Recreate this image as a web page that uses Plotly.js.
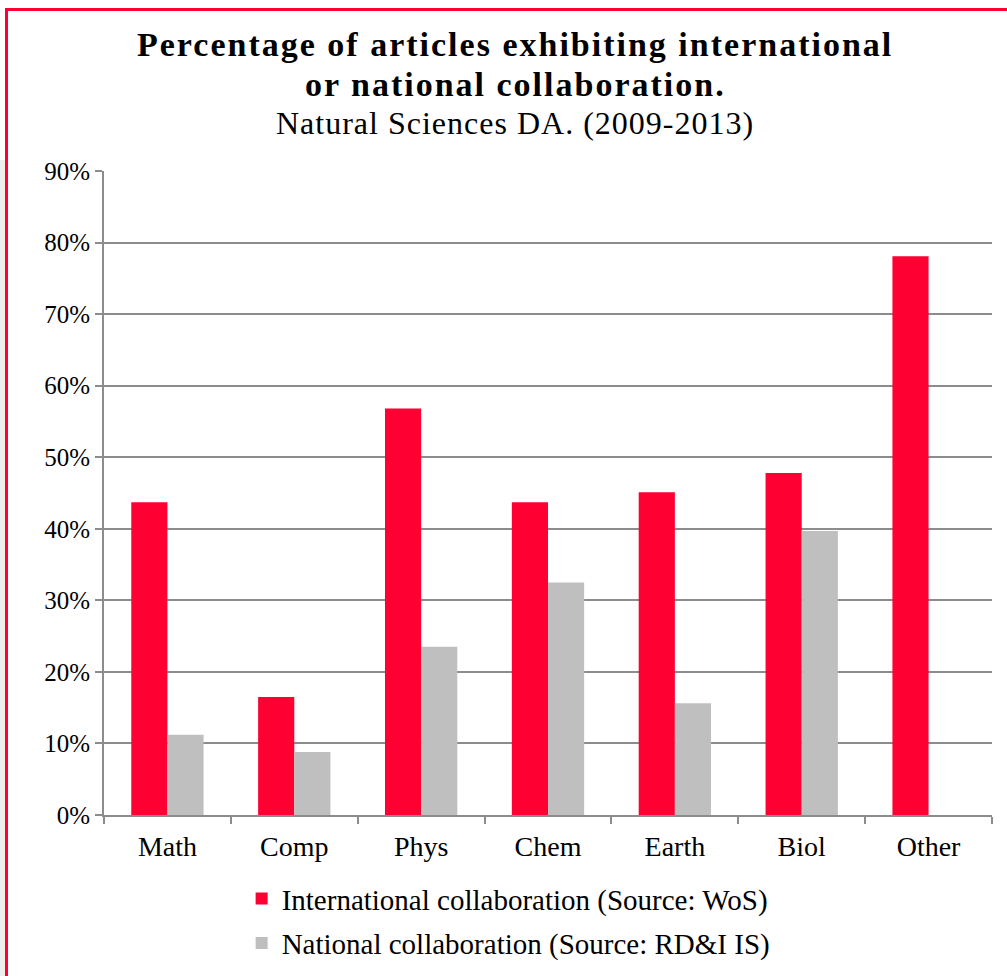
<!DOCTYPE html>
<html>
<head>
<meta charset="utf-8">
<script src="https://cdn.plot.ly/plotly-3.0.1.min.js"></script>
<style>
html,body{margin:0;padding:0;background:#fff;}
#wrap{position:relative;width:1007px;height:976px;}
#chart{position:absolute;left:0;top:0;width:1007px;height:976px;}
#frame{position:absolute;left:5px;top:8px;width:1010px;height:980px;border-top:3px solid #ff0033;border-left:3px solid #ff0033;pointer-events:none;}
#strip{position:absolute;left:0;top:160px;width:5px;height:816px;background:#eeeeee;}
g.annotation[data-index="0"] text, g.annotation[data-index="1"] text{letter-spacing:2px;}
g.annotation[data-index="2"] text{letter-spacing:1px;}
</style>
</head>
<body>
<div id="wrap">
<div id="chart"></div>
<div id="strip"></div>
<div id="frame"></div>
</div>
<script>
const categories = ["Math", "Comp", "Phys", "Chem", "Earth", "Biol", "Other"];
const international = [43.7, 16.5, 56.8, 43.7, 45.1, 47.8, 78.1];
const national = [11.2, 8.8, 23.5, 32.5, 15.6, 39.7, 0];
const seriesNames = ["International collaboration (Source: WoS)", "National collaboration (Source: RD&I IS)"];
const yTicks = [0, 10, 20, 30, 40, 50, 60, 70, 80, 90];
const yTickLabels = yTicks.map(v => v + "%");

const serif = "Liberation Serif, Times New Roman, serif";

const traces = [
  {type: "bar", name: seriesNames[0], x: categories, y: international,
   marker: {color: "#ff0033"}, legendgroup: "a", hoverinfo: "x+y"},
  {type: "bar", name: seriesNames[1], x: categories, y: national,
   marker: {color: "#bfbfbf"}, legendgroup: "b", hoverinfo: "x+y"}
];

const layout = {
  width: 1007, height: 976,
  margin: {l: 104, r: 15, t: 171, b: 161},
  paper_bgcolor: "#ffffff", plot_bgcolor: "#ffffff",
  barmode: "group", bargap: 0.43, bargroupgap: 0,
  font: {family: serif, color: "#000"},
  showlegend: true,
  legend: {x: 0.155, y: 0.1055, xref: "paper", yref: "container", xanchor: "left", yanchor: "top",
           orientation: "v",
           font: {family: serif, size: 29, color: "#000"}, traceorder: "grouped", tracegroupgap: 4,
           bgcolor: "rgba(0,0,0,0)"},
  xaxis: {type: "category", tickson: "boundaries", ticks: "outside", ticklen: 7, tickwidth: 2,
          tickcolor: "#8c8c8c", showline: true, linecolor: "#8c8c8c", linewidth: 2,
          ticklabelstandoff: 5,
          showgrid: false, tickfont: {family: serif, size: 28, color: "#000"}, fixedrange: true},
  yaxis: {range: [0, 90], tickvals: yTicks, ticktext: yTickLabels, ticks: "outside", ticklen: 7,
          tickwidth: 2, tickcolor: "#8c8c8c", showline: true, linecolor: "#8c8c8c", linewidth: 2,
          showgrid: true, gridcolor: "#8c8c8c", gridwidth: 2, zeroline: false,
          tickfont: {family: serif, size: 25, color: "#000"}, fixedrange: true},
  annotations: [
    {xref: "paper", yref: "paper", x: 0.463, y: 1, yshift: 127, xanchor: "center", yanchor: "middle",
     text: "<b>Percentage of articles exhibiting international</b>", showarrow: false,
     font: {family: serif, size: 34, color: "#000"}},
    {xref: "paper", yref: "paper", x: 0.463, y: 1, yshift: 87, xanchor: "center", yanchor: "middle",
     text: "<b>or national collaboration.</b>", showarrow: false,
     font: {family: serif, size: 34, color: "#000"}},
    {xref: "paper", yref: "paper", x: 0.463, y: 1, yshift: 48, xanchor: "center", yanchor: "middle",
     text: "Natural Sciences DA. (2009-2013)", showarrow: false,
     font: {family: serif, size: 32, color: "#000"}}
  ]
};

Plotly.newPlot("chart", traces, layout, {displayModeBar: false, staticPlot: true});
</script>
</body>
</html>
